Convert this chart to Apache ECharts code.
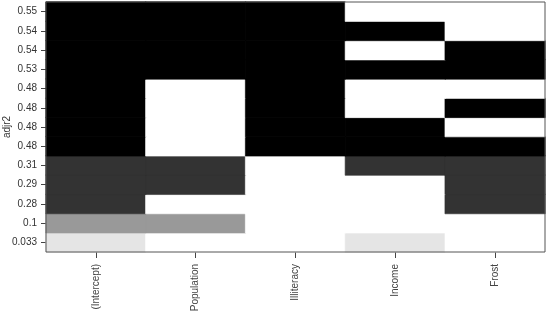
<!DOCTYPE html>
<html><head><meta charset="utf-8">
<script src="https://cdn.jsdelivr.net/npm/echarts@6/dist/echarts.min.js"></script>
<style>html,body{margin:0;padding:0;background:#fff}#c{width:554px;height:319px}</style>
</head><body><div id="c"></div>
<script>
// Variables (columns)
const variables = ['(Intercept)', 'Population', 'Illiteracy', 'Income', 'Frost'];
// adjr2 row labels, bottom to top
const adjr2Labels = ['0.033', '0.1', '0.28', '0.29', '0.31', '0.48', '0.48', '0.48', '0.48', '0.53', '0.54', '0.54', '0.55'];
// Shade level per row (bottom to top): 1 light, 2 gray, 3 dark, 4 black
const rowShade = [1, 2, 3, 3, 3, 4, 4, 4, 4, 4, 4, 4, 4];
// Inclusion matrix per row (bottom to top), columns in variables order
const included = [
  [1, 0, 0, 1, 0],
  [1, 1, 0, 0, 0],
  [1, 0, 0, 0, 1],
  [1, 1, 0, 0, 1],
  [1, 1, 0, 1, 1],
  [1, 0, 1, 1, 1],
  [1, 0, 1, 1, 0],
  [1, 0, 1, 0, 1],
  [1, 0, 1, 0, 0],
  [1, 1, 1, 1, 1],
  [1, 1, 1, 0, 1],
  [1, 1, 1, 1, 0],
  [1, 1, 1, 0, 0]
];
const shadeColors = ['#ffffff', '#e5e5e5', '#999999', '#333333', '#000000'];

const data = [];
included.forEach((row, r) => row.forEach((v, c) => {
  const col = shadeColors[v ? rowShade[r] : 0];
  data.push({ value: [c, r, v ? rowShade[r] : 0], itemStyle: { color: col, borderColor: col, borderWidth: 0.6 } });
}));

const font = 'Liberation Sans, Arial, sans-serif';
const chart = echarts.init(document.getElementById('c'));
chart.setOption({
  animation: false,
  grid: { left: 46, right: 9, top: 2, bottom: 67, containLabel: false, outerBoundsMode: 'none',
          show: true, borderColor: '#555', borderWidth: 1, z: 10 },
  xAxis: {
    type: 'category', data: variables, position: 'bottom',
    axisLine: { show: false },
    axisTick: { show: true, alignWithLabel: true, length: 6, lineStyle: { color: '#444' } },
    axisLabel: { rotate: 90, margin: 12, fontSize: 10, color: '#444', fontFamily: font },
    splitLine: { show: false }
  },
  yAxis: {
    type: 'category', data: adjr2Labels,
    name: 'adjr2', nameLocation: 'middle', nameGap: 34, nameRotate: 90, nameMoveOverlap: false,
    nameTextStyle: { fontSize: 10, color: '#333', fontFamily: font },
    axisLine: { show: false },
    axisTick: { show: true, alignWithLabel: true, length: 5, lineStyle: { color: '#444' } },
    axisLabel: { margin: 9, fontSize: 10, color: '#333', fontFamily: font },
    splitLine: { show: false }
  },
  series: [{
    type: 'heatmap', data: data,
    emphasis: { disabled: true }
  }]
});
</script></body></html>
